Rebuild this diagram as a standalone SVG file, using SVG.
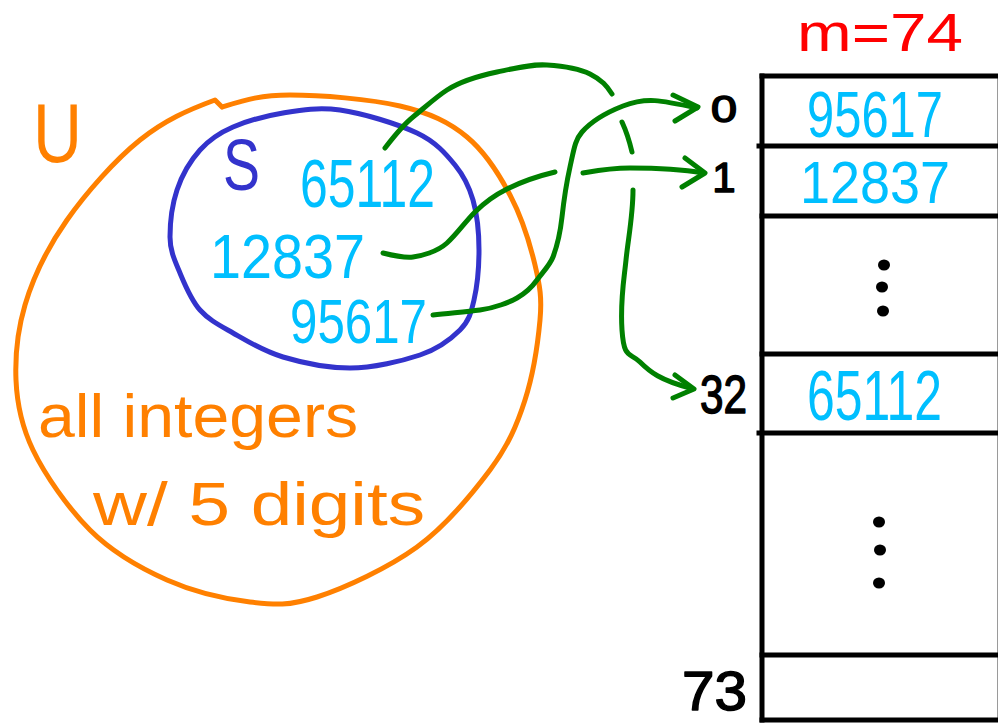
<svg xmlns="http://www.w3.org/2000/svg" width="998" height="723" viewBox="0 0 998 723">
  <style>
    .hand { font-family: "Liberation Sans", "DejaVu Sans", sans-serif; }
    .cyan { fill: #00BFFF; }
    .orange { fill: #FF8000; }
    .ink { fill: #000000; }
    .label { fill: #000000; stroke: #000000; stroke-width: 1.5; stroke-linejoin: round; }
    .stroke { fill: none; stroke-width: 5; stroke-linecap: round; stroke-linejoin: round; }
    .set-u { stroke: #FF8000; }
    .set-s { stroke: #3333CC; }
    .link { stroke: #008000; }
    .grid { stroke: #000000; stroke-width: 5; stroke-linecap: square; fill: none; }
  </style>

  <rect width="998" height="723" fill="#ffffff"/>

  <!-- universe U: all 5-digit integers -->
  <g id="universe">
    <path class="stroke set-u" d="M222,107 C245,100 260,95 290,95 S370,99 400,106 S449,122 467,137 S499,174 510,195 S530,244 535,265 S542,298 540,320 S533,375 525,400 S508,446 490,470 S446,526 417,547 S345,588 317,597 S275,605 250,602 S194,592 167,580 S112,552 90,530 S45,475 33,450 S17,404 16,380 S17,332 25,305 S48,247 67,220 S115,160 140,140 S188,110 215,100 L222,107"/>
    <text class="hand orange" x="33" y="162" font-size="84" textLength="49" lengthAdjust="spacingAndGlyphs">U</text>
    <text class="hand orange" x="38" y="437" font-size="62" textLength="320" lengthAdjust="spacingAndGlyphs">all integers</text>
    <text class="hand orange" x="93" y="525" font-size="62" textLength="332" lengthAdjust="spacingAndGlyphs">w/ 5 digits</text>
  </g>

  <!-- subset S of keys -->
  <g id="subset">
    <path class="stroke set-s" d="M340,110 C362,113 398,124 417,133 S446,154 455,165 S469,186 473,200 S479,233 479,250 S477,287 474,300 S469,321 460,330 S438,349 420,355 S373,368 350,368 S303,363 283,357 S247,341 233,333 S209,320 200,310 S185,285 180,273 S170,251 170,237 S172,205 177,190 S191,160 200,150 S219,133 233,127 S265,116 283,113 S318,107 340,110 Z"/>
    <text class="hand" fill="#3333CC" x="223" y="190" font-size="72" textLength="37" lengthAdjust="spacingAndGlyphs">S</text>
  </g>

  <g id="key-65112">
    <text class="hand cyan" x="300" y="207" font-size="68" textLength="135" lengthAdjust="spacingAndGlyphs">65112</text>
  </g>
  <g id="key-12837">
    <text class="hand cyan" x="210" y="278" font-size="63" textLength="155" lengthAdjust="spacingAndGlyphs">12837</text>
  </g>
  <g id="key-95617">
    <text class="hand cyan" x="290" y="343" font-size="63" textLength="137" lengthAdjust="spacingAndGlyphs">95617</text>
  </g>

  <!-- hash table with m = 74 slots -->
  <g id="table">
    <text class="hand" fill="#FF0000" x="797" y="51" font-size="54" textLength="166" lengthAdjust="spacingAndGlyphs">m=74</text>
    <line x1="997.5" y1="76" x2="997.5" y2="720" stroke="#9a9a9a" stroke-width="1"/>
    <line class="grid" x1="762" y1="76" x2="762" y2="720"/>
    <line class="grid" x1="762" y1="76" x2="996" y2="76"/>
    <line class="grid" x1="759" y1="146" x2="996" y2="146"/>
    <line class="grid" x1="762" y1="216" x2="996" y2="216"/>
    <line class="grid" x1="762" y1="354" x2="996" y2="354"/>
    <line class="grid" x1="759" y1="433" x2="996" y2="433"/>
    <line class="grid" x1="762" y1="655" x2="996" y2="655"/>
    <line class="grid" x1="762" y1="720" x2="996" y2="720"/>
  </g>

  <g id="slot-0">
    <text class="hand label" x="711" y="122" font-size="36" textLength="26" lengthAdjust="spacingAndGlyphs">0</text>
    <text class="hand cyan" x="807" y="137" font-size="65" textLength="136" lengthAdjust="spacingAndGlyphs">95617</text>
  </g>
  <g id="slot-1">
    <text class="hand label" x="724" y="192" font-size="42" text-anchor="middle">1</text>
    <text class="hand cyan" x="800" y="203" font-size="60" textLength="150" lengthAdjust="spacingAndGlyphs">12837</text>
  </g>
  <g id="gap-upper" class="ink">
    <ellipse cx="884" cy="265" rx="6" ry="5.5"/>
    <ellipse cx="882" cy="287" rx="6" ry="5.5"/>
    <ellipse cx="883" cy="311" rx="6" ry="5.5"/>
  </g>
  <g id="slot-32">
    <text class="hand label" x="700" y="413" font-size="53" textLength="47" lengthAdjust="spacingAndGlyphs">32</text>
    <text class="hand cyan" x="807" y="420" font-size="70" textLength="135" lengthAdjust="spacingAndGlyphs">65112</text>
  </g>
  <g id="gap-lower" class="ink">
    <ellipse cx="879" cy="522" rx="6" ry="5.5"/>
    <ellipse cx="880" cy="550" rx="6" ry="5.5"/>
    <ellipse cx="879" cy="583" rx="6" ry="5.5"/>
  </g>
  <g id="slot-73">
    <text class="hand label" x="682" y="710" font-size="56" textLength="65" lengthAdjust="spacingAndGlyphs">73</text>
  </g>

  <!-- hash arrows: key -> slot, with hop gaps where lines cross -->
  <g id="connectors" class="stroke link">
    <path d="M385,148 C395,135 403,125 413,117 S436,97 447,90 S478,76 497,72 S532,64 547,65 S578,68 590,74 S607,86 612,94"/>
    <path d="M622,122 Q628,135 632,152"/>
    <path d="M633,190 C633,215 628,240 626,260 S620,300 622,330 S630,352 640,362 S660,380 690,388"/>
    <path d="M675,375 L694,389 L673,398"/>

    <path d="M383,253 C395,256 405,258 413,257 S437,252 447,243 S465,222 475,212 S495,195 507,189 S530,178 555,172"/>
    <path d="M583,173 C600,170 610,168 630,168 S680,169 703,173"/>
    <path d="M685,158 L705,173 L682,187"/>

    <path d="M433,315 C450,313 465,312 480,310 S510,302 517,298 S532,287 537,280 S550,265 553,257 S560,235 562,217 S566,185 570,167 S575,140 582,132 S600,115 623,106 S660,100 697,108"/>
    <path d="M673,95 L698,107 L675,121"/>
  </g>
</svg>
